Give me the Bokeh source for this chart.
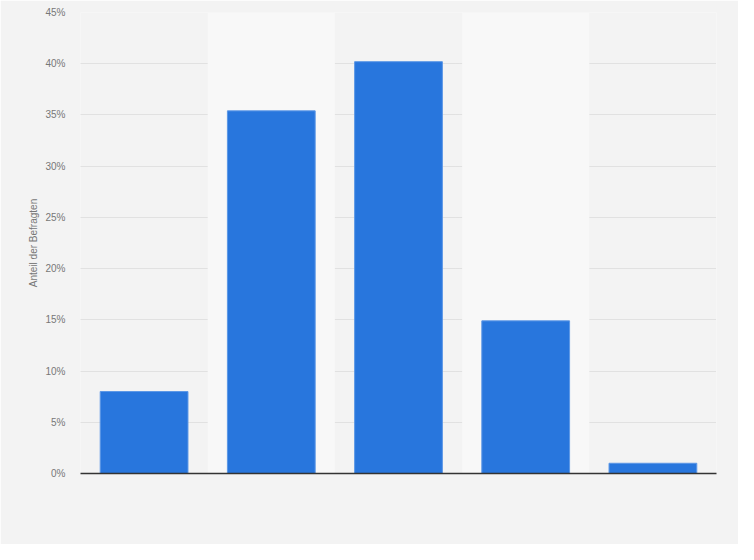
from bokeh.plotting import figure
from bokeh.models import Range1d, FactorRange, ColumnDataSource, PrintfTickFormatter, FixedTicker
from bokeh.embed import file_html
from bokeh.resources import INLINE

categories = ["A", "B", "C", "D", "E"]
values = [8.0, 35.4, 40.2, 14.9, 1.0]
y_ticks = [0, 5, 10, 15, 20, 25, 30, 35, 40, 45]
band_categories = ["B", "D"]
y_max = 45

p = figure(width=738, height=544, x_range=FactorRange(*categories), y_range=Range1d(0, y_max),
           output_backend="svg", toolbar_location=None,
           min_border_left=80, min_border_right=22, min_border_top=12, min_border_bottom=71)
p.background_fill_color = "#f3f3f3"
p.border_fill_color = "#f3f3f3"
p.outline_line_color = None

bands = ColumnDataSource(dict(x=band_categories, top=[y_max] * len(band_categories)))
p.vbar(x="x", top="top", bottom=0, width=1.0, source=bands, fill_color="#f8f8f8", line_color=None)

src = ColumnDataSource(dict(x=categories, top=values))
p.vbar(x="x", top="top", bottom=0, width=0.69, source=src, fill_color="#2876dd",
       line_color="#5c97e6", line_width=1)

p.xgrid.visible = False
p.ygrid.grid_line_color = "#cfcfcf"
p.ygrid.grid_line_dash = "1 1"
p.ygrid.grid_line_width = 1
p.ygrid.level = "underlay"

p.xaxis.major_label_text_font_size = "0px"
p.xaxis.major_label_text_color = None
p.xaxis.major_tick_line_color = None
p.xaxis.minor_tick_line_color = None
p.xaxis.axis_line_color = "#333333"
p.xaxis.axis_line_width = 1.5

p.yaxis.ticker = FixedTicker(ticks=y_ticks)
p.yaxis.formatter = PrintfTickFormatter(format="%d%%")
p.yaxis.axis_line_color = None
p.yaxis.major_tick_line_color = None
p.yaxis.minor_tick_line_color = None
p.yaxis.major_tick_out = 0
p.yaxis.major_tick_in = 0
p.yaxis.minor_tick_out = 0
p.yaxis.major_label_text_font = "Liberation Sans"
p.yaxis.major_label_text_font_size = "10px"
p.yaxis.major_label_text_color = "#777777"
p.yaxis.major_label_standoff = 15
p.yaxis.axis_label = "Anteil der Befragten"
p.yaxis.axis_label_text_font = "Liberation Sans"
p.yaxis.axis_label_text_font_size = "10px"
p.yaxis.axis_label_text_font_style = "normal"
p.yaxis.axis_label_text_color = "#777777"
p.yaxis.axis_label_standoff = 3

open("out.html", "w").write(file_html(p, INLINE))
